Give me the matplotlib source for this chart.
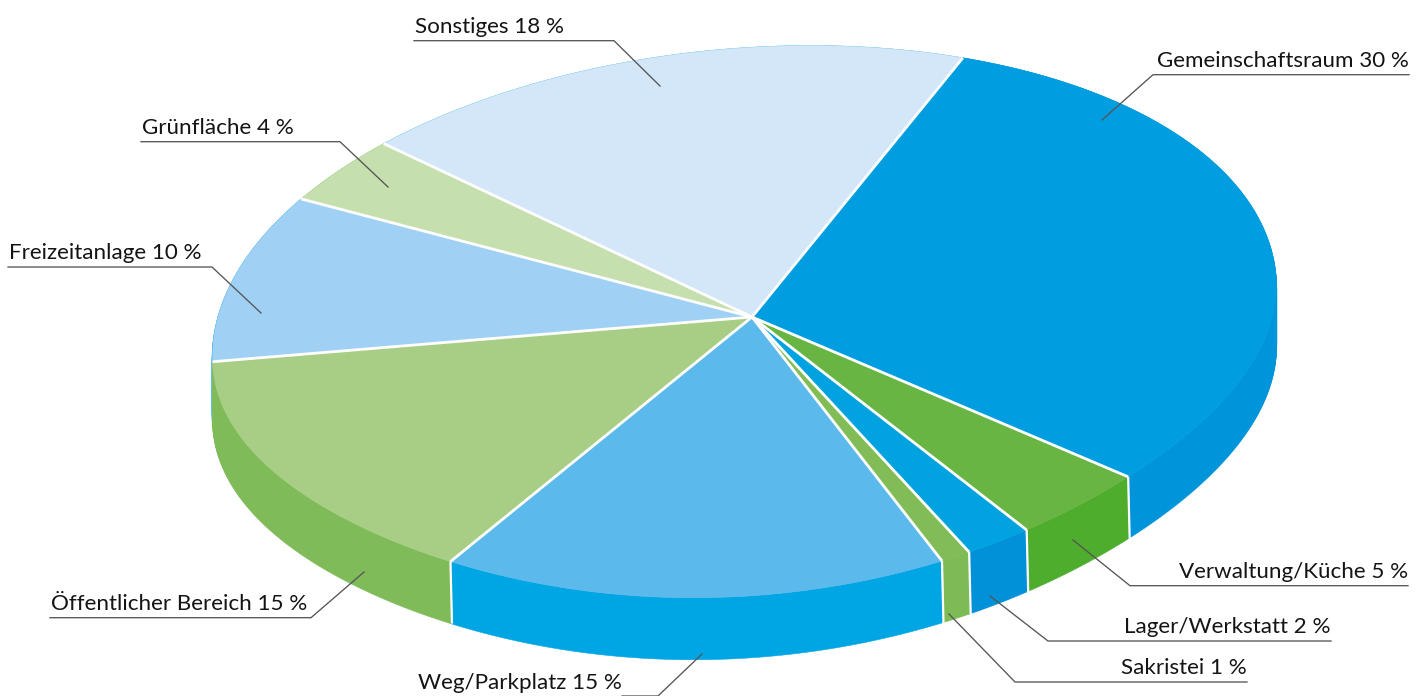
import numpy as np
import matplotlib
matplotlib.use("Agg")
import matplotlib.pyplot as plt

plt.rcParams['font.family'] = ['Lato', 'DejaVu Sans']

# slices, clockwise from the top
names = ['Gemeinschaftsraum', 'Verwaltung/Küche', 'Lager/Werkstatt', 'Sakristei', 'Weg/Parkplatz',
         'Öffentlicher Bereich', 'Freizeitanlage', 'Grünfläche', 'Sonstiges']
shares = [30, 5, 2, 1, 15, 15, 10, 4, 18]
# size of each slice, the printed shares are rounded
drawn_shares = [30.0, 4.17, 2.06, 0.92, 15.7, 15.1, 9.64, 3.82, 18.59]
top_colors = ['#009ee0', '#69b543', '#00a3e0', '#82bc57', '#5cb9eb', '#a8ce85', '#a0d1f4', '#c5dfae', '#d3e7f8']
side_colors = ['#0094da', '#4fad2e', '#0091d9', '#7dbb55', '#00a6e4', '#7fbb58', '#009ee0', '#7fbb58', '#009ee0']

# pie geometry in pixels
cx, cy = 744.5, 322
a, b = 533.5, 273.5
tilt = np.radians(5)
apex = (752, 317)
depth = 62
start = 63.2
front_squeeze = 0.026  # the front corners of the disc sit a bit inside a true ellipse

# leader lines: label anchor side, horizontal start, horizontal end, tip
leaders = [
    ('right', 1409, 1153, 74.7, 1102, 120),
    ('right', 1408, 1130, 585.7, 1073, 540),
    ('right', 1331, 1048, 641, 990, 596),
    ('right', 1247, 1015, 682, 949, 614),
    ('right', 622, 658, 696, 702, 654),
    ('left', 50, 311, 617.7, 364, 572),
    ('left', 8, 212, 267, 261, 313),
    ('left', 141, 340, 141.7, 388, 187),
    ('left', 414, 614, 40.7, 660, 86),
]


def rim(deg):
    t = np.radians(deg)
    r = 1 - front_squeeze * np.sin(2 * t) ** 2 * (np.sin(t) < 0)
    x = a * r * np.cos(t)
    y = b * r * np.sin(t)
    return cx + x * np.cos(tilt) - y * np.sin(tilt), cy - (x * np.sin(tilt) + y * np.cos(tilt))


fig = plt.figure(figsize=(14.22, 6.96), dpi=100)
ax = fig.add_axes([0, 0, 1, 1])
ax.set_xlim(0, 1422)
ax.set_ylim(696, 0)
ax.axis('off')

edges = start - np.cumsum([0] + drawn_shares) * 3.6

# walls first, the tops cover whatever is hidden
for i in [6, 7, 8, 0, 1, 2, 3, 4, 5]:
    t = np.linspace(edges[i], edges[i + 1], 200)
    x, y = rim(t)
    ax.fill(np.r_[x, x[::-1]], np.r_[y, y[::-1] + depth], color=side_colors[i], lw=0.4, zorder=1)
    # shifted copies close the notch at the far left and right of the wall
    for d in range(2, depth, 2):
        ax.plot(x, y + d, color=side_colors[i], lw=1, zorder=1)

for i in range(len(shares)):
    t = np.linspace(edges[i], edges[i + 1], 200)
    x, y = rim(t)
    ax.fill(np.r_[apex[0], x], np.r_[apex[1], y], color=top_colors[i], lw=0.4, zorder=2)

for e in edges[:-1]:
    x, y = rim(e)
    ax.plot([apex[0], x], [apex[1], y], color='white', lw=2.0, zorder=3, solid_capstyle='butt')
    if np.sin(np.radians(e)) < 0 and np.cos(np.radians(e)) > -0.8:
        ax.plot([x, x + 1.5], [y, y + depth], color='white', lw=1.6, zorder=3, solid_capstyle='butt')

for name, share, (side, x0, x1, ly, tx, ty) in zip(names, shares, leaders):
    ax.plot([x0, x1, tx], [ly, ly, ty], color='#555555', lw=0.95, zorder=4)
    label = f'{name} {share} %'
    if name == 'Weg/Parkplatz':
        ax.text(x0, 689, label, ha='right', va='baseline', fontsize=16.1, color='#141414', zorder=5)
    else:
        ax.text(x0 if side == 'right' else x0 + 1, ly - 8, label, ha=side, va='baseline',
                fontsize=16.1, color='#141414', zorder=5)

fig.savefig('out.png', dpi=100)
